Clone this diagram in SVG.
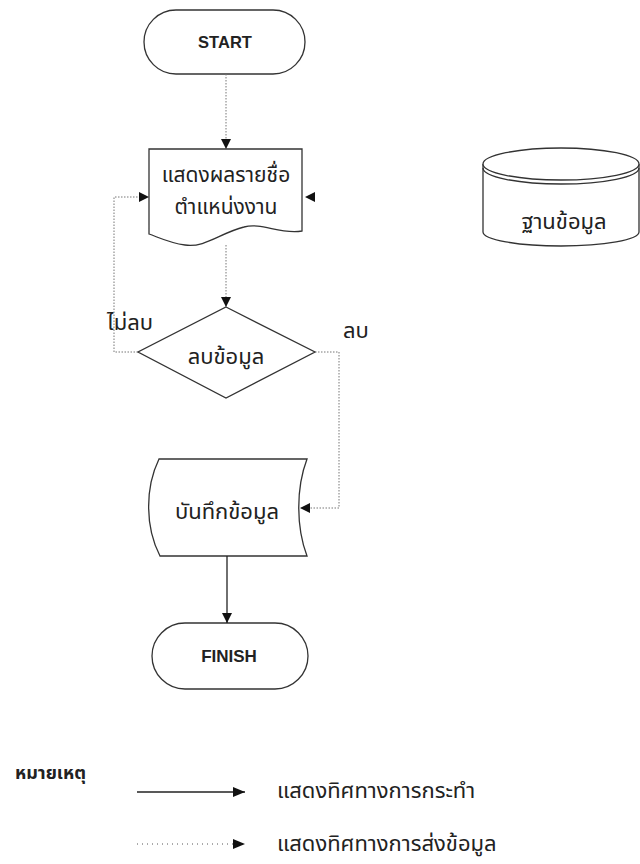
<svg xmlns="http://www.w3.org/2000/svg" width="640" height="864" viewBox="0 0 640 864">
<style>
.s{fill:#fff;stroke:#333;stroke-width:1.3}
.t{font-family:"Noto Sans Thai","Noto Sans","DejaVu Sans",sans-serif;font-size:22px;fill:#222}
.e{font-family:"Liberation Sans",Arial,sans-serif;font-size:16.5px;font-weight:bold;fill:#222}
.d{fill:none;stroke:#777;stroke-width:1;stroke-dasharray:1.5 1.5}
.l{fill:none;stroke:#222;stroke-width:1.3}
.m{fill:none;stroke:#333;stroke-width:1.3}
</style>
<defs>
<marker id="a" viewBox="0 0 10 10" refX="10" refY="5" markerWidth="10" markerHeight="10" markerUnits="userSpaceOnUse" orient="auto">
<path d="M0,0L10,5L0,10z" fill="#111"/>
</marker>
<marker id="b" viewBox="0 0 12 10" refX="12" refY="5" markerWidth="12" markerHeight="10" markerUnits="userSpaceOnUse" orient="auto">
<path d="M0,0L12,5L0,10z" fill="#111"/>
</marker>
</defs>
<rect width="640" height="864" fill="#fff"/>
<g id="start">
<rect class="s" x="144" y="10" width="161" height="64" rx="32"/>
<text class="e" x="225" y="48" text-anchor="middle">START</text>
</g>
<g id="display">
<path class="s" d="M149,149H302V231C280,235 262,222 244,227C220,233 205,248 185,245C170,243 160,238 149,234Z"/>
<text class="t" x="226" y="182" text-anchor="middle" style="font-size:21px">แสดงผลรายชื่อ</text>
<text class="t" x="226" y="214" text-anchor="middle" style="font-size:21px">ตำแหน่งงาน</text>
</g>
<g id="decision">
<path class="s" d="M226,307L315,352L226,398L138,352Z"/>
<text class="t" x="226" y="364" text-anchor="middle">ลบข้อมูล</text>
</g>
<g id="store">
<path class="s" d="M159,459H307C296,488 296,527 307,556H160C145,527 145,488 159,459Z"/>
<text class="t" x="227" y="519" text-anchor="middle">บันทึกข้อมูล</text>
</g>
<g id="finish">
<rect class="s" x="152" y="623" width="156" height="66" rx="33"/>
<text class="e" x="229" y="662" text-anchor="middle" style="font-size:17px">FINISH</text>
</g>
<g id="database">
<path class="s" d="M483,164V232A78,14 0 0 0 639,232V164"/>
<ellipse class="s" cx="561" cy="164" rx="78" ry="16"/>
<path class="m" d="M483,168A78,16 0 0 0 639,168"/>
<text class="t" x="564" y="229" text-anchor="middle">ฐานข้อมูล</text>
</g>
<g id="connectors">
<path class="d" d="M226,74V149" marker-end="url(#a)"/>
<path class="d" d="M226,245V307" marker-end="url(#a)"/>
<path class="d" d="M138,352H114V197H149" marker-end="url(#a)"/>
<path class="d" d="M315,352H339V508H300" marker-end="url(#a)"/>
<path d="M315,192L305,197L315,202z" fill="#111"/>
<path class="l" d="M227,556V623" marker-end="url(#a)"/>
<text class="t" x="107" y="330">ไม่ลบ</text>
<text class="t" x="343" y="338">ลบ</text>
</g>
<g id="legend">
<text class="t" x="15" y="779" style="font-size:18px;font-weight:bold">หมายเหตุ</text>
<path class="l" d="M137,792H245" marker-end="url(#b)"/>
<text class="t" x="277" y="798">แสดงทิศทางการกระทำ</text>
<path d="M137,844H245" fill="none" stroke="#555" stroke-width="1" stroke-dasharray="1 4" marker-end="url(#b)"/>
<text class="t" x="277" y="851">แสดงทิศทางการส่งข้อมูล</text>
</g>
</svg>
